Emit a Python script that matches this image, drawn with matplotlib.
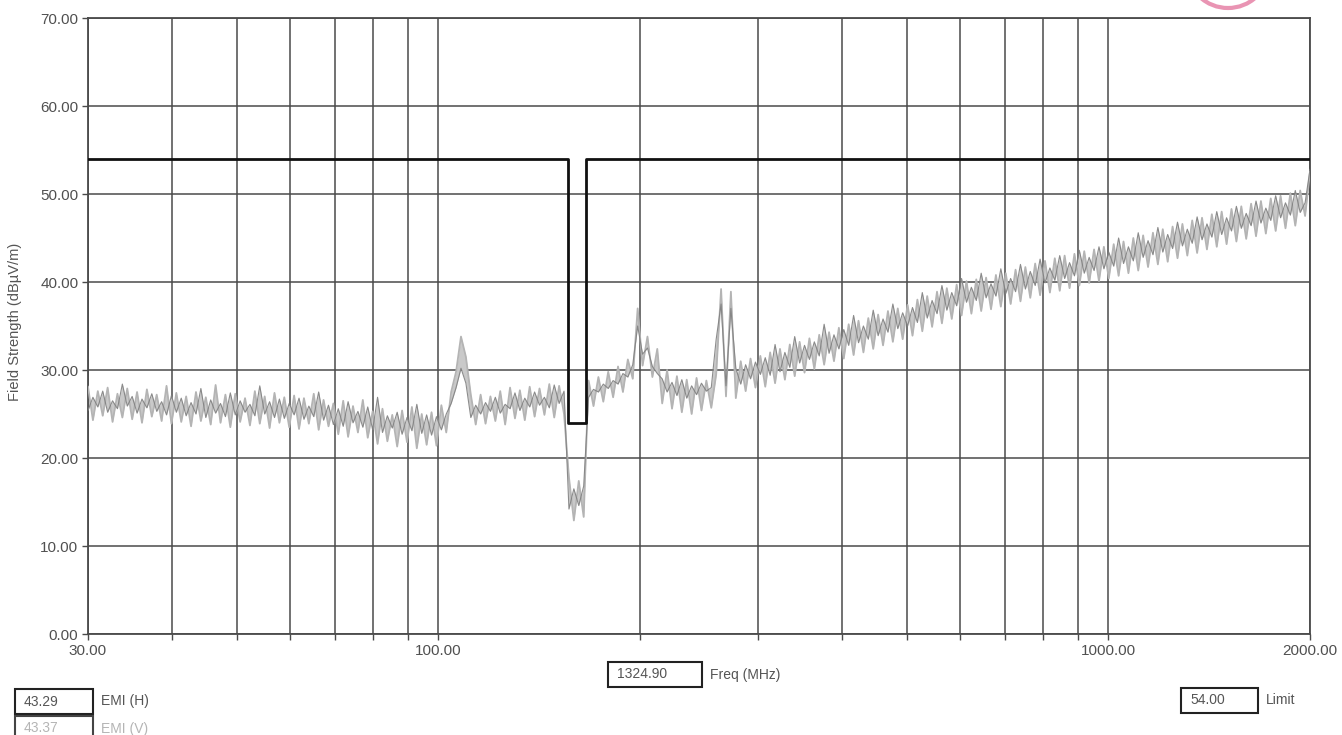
import numpy as np
import matplotlib
matplotlib.use('Agg')
import matplotlib.pyplot as plt
from matplotlib.patches import Rectangle, Ellipse
from matplotlib.ticker import NullLocator

# ---------------- data ----------------
freq_start, freq_stop, n_points = 30.0, 2000.0, 250

emi_v = [
    28.1, 24.3, 27.6, 24.8, 28.0, 24.1, 27.3, 24.6, 27.9, 24.4,
    27.5, 24.0, 27.8, 24.7, 27.2, 24.2, 28.2, 23.9, 27.4, 24.1,
    27.0, 23.6, 27.5, 24.2, 26.9, 23.8, 28.3, 24.0, 27.2, 23.5,
    27.3, 24.1, 26.8, 23.7, 27.6, 23.9, 27.0, 23.4, 27.4, 24.0,
    26.9, 23.5, 27.1, 23.3, 26.8, 23.9, 27.3, 23.2, 26.6, 23.6,
    26.2, 22.7, 26.5, 22.4, 25.9, 22.9, 26.6, 22.3, 25.3, 21.6,
    25.6, 21.9, 24.9, 21.3, 25.4, 21.8, 25.8, 21.1, 25.0, 21.5,
    25.2, 21.4, 26.0, 22.9, 27.5, 29.8, 33.8, 31.5, 27.2, 23.8,
    27.2, 23.9, 27.0, 24.2, 27.6, 23.8, 28.0, 24.5, 27.7, 24.3,
    28.1, 24.7, 27.9, 24.9, 28.4, 24.6, 28.2, 25.0, 17.8, 12.9,
    17.4, 13.3, 28.8, 25.9, 29.2, 26.4, 29.8, 26.9, 30.4, 27.5,
    31.2, 29.0, 37.0, 30.5, 33.8, 29.2, 32.4, 26.2, 30.0, 25.6,
    29.3, 25.2, 28.9, 25.0, 29.1, 25.4, 28.8, 25.7, 29.5, 39.2,
    27.0, 38.9, 26.8, 31.0, 27.6, 31.3, 28.0, 31.6, 28.1, 32.0,
    28.5, 32.4, 28.9, 32.9, 29.3, 33.2, 29.7, 33.6, 30.1, 34.0,
    30.6, 34.3, 31.0, 34.8, 31.3, 35.2, 31.7, 35.6, 32.0, 35.9,
    32.4, 36.3, 32.8, 36.7, 33.2, 37.0, 33.5, 37.4, 33.9, 38.0,
    34.4, 38.4, 34.9, 38.9, 35.3, 39.3, 35.8, 39.7, 36.2, 40.1,
    36.4, 40.3, 36.7, 40.5, 36.9, 40.8, 37.2, 41.0, 37.5, 41.4,
    37.8, 41.7, 38.2, 42.1, 38.5, 42.4, 38.8, 42.7, 39.0, 43.0,
    39.3, 43.2, 39.6, 43.5, 39.9, 43.7, 40.1, 44.0, 40.4, 44.3,
    40.7, 44.6, 41.0, 45.0, 41.3, 45.3, 41.7, 45.6, 42.0, 46.0,
    42.3, 46.3, 42.7, 46.6, 43.0, 47.0, 43.3, 47.3, 43.7, 47.7,
    44.0, 48.0, 44.3, 48.3, 44.6, 48.6, 44.9, 48.9, 45.2, 49.2,
    45.5, 49.5, 45.8, 49.8, 46.1, 50.1, 46.4, 50.4, 47.5, 52.5,
]

emi_h = [
    25.4, 26.9, 25.8, 27.6, 25.2, 26.5, 25.6, 28.4, 25.9, 27.0,
    25.1, 26.7, 25.7, 27.3, 25.3, 26.4, 24.9, 27.1, 25.2, 26.8,
    24.8, 26.3, 25.0, 27.9, 24.6, 26.6, 25.1, 26.2, 24.7, 27.4,
    24.9, 26.5, 25.2, 26.1, 24.8, 28.2, 25.0, 26.4, 24.6, 26.7,
    24.5, 26.2, 24.9, 26.8, 24.4, 25.9, 24.7, 27.5, 24.3, 26.0,
    23.8, 25.6, 23.6, 26.4, 24.0, 25.3, 23.5, 25.8, 23.2, 26.9,
    22.9, 24.8, 23.4, 25.2, 22.7, 24.6, 23.1, 26.1, 22.8, 24.9,
    22.6, 24.7, 23.2, 25.0, 26.2, 28.0, 30.2, 28.5, 24.6, 26.0,
    25.0, 26.3, 25.3, 26.9, 25.1, 26.1, 25.6, 27.4, 25.4, 26.8,
    25.8, 27.5, 26.0, 26.9, 25.7, 28.3, 26.2, 27.6, 14.2, 16.5,
    14.6, 16.8, 26.9, 27.8, 27.5, 28.4, 27.9, 28.8, 28.4, 29.6,
    29.2, 30.6, 35.0, 31.8, 32.5, 30.4, 29.6, 29.0, 27.5, 28.6,
    27.1, 28.9, 26.8, 28.2, 27.2, 28.5, 27.6, 28.0, 33.5, 37.5,
    28.2, 37.0, 30.2, 28.4, 30.6, 29.0, 30.9, 29.5, 31.4, 29.4,
    32.9, 29.8, 32.0, 30.3, 33.8, 30.8, 32.8, 31.2, 33.2, 31.6,
    35.2, 31.9, 34.0, 32.4, 34.6, 32.8, 36.2, 33.1, 35.0, 33.5,
    36.8, 33.9, 35.8, 34.3, 37.5, 34.7, 36.5, 35.0, 37.1, 35.4,
    38.8, 35.9, 37.9, 36.4, 39.6, 36.8, 38.8, 37.3, 40.4, 37.7,
    39.4, 37.9, 41.0, 38.2, 39.8, 38.4, 41.5, 38.7, 40.4, 38.9,
    42.0, 39.2, 41.2, 39.6, 42.6, 39.9, 41.6, 40.2, 43.0, 40.4,
    42.2, 40.7, 43.6, 41.0, 42.8, 41.3, 44.0, 41.5, 43.4, 41.8,
    45.0, 42.1, 44.0, 42.4, 45.6, 42.8, 44.7, 43.1, 46.2, 43.4,
    45.4, 43.8, 46.8, 44.1, 46.0, 44.4, 47.4, 44.8, 46.6, 45.1,
    48.0, 45.4, 47.3, 45.8, 48.6, 46.1, 47.8, 46.4, 49.2, 46.7,
    48.4, 47.0, 49.8, 47.3, 49.0, 47.6, 50.4, 47.9, 49.0, 52.8,
]

limit_freq = [30.0, 156.3, 156.3, 166.0, 166.0, 2000.0]
limit_level = [54.0, 54.0, 24.0, 24.0, 54.0, 54.0]

y_ticks = [0, 10, 20, 30, 40, 50, 60, 70]
x_grid = [30, 40, 50, 60, 70, 80, 90, 100, 200, 300, 400, 500, 600,
          700, 800, 900, 1000, 2000]
x_labeled = [30, 100, 1000, 2000]

readouts = [("43.29", "EMI (H)"), ("43.37", "EMI (V)")]
freq_readout = ("1324.90", "Freq (MHz)")
limit_readout = ("54.00", "Limit")

assert len(emi_v) == n_points and len(emi_h) == n_points
freq = np.geomspace(freq_start, freq_stop, n_points)

# ---------------- figure ----------------
W, H = 1342, 735
plt.rcParams['font.family'] = ['Liberation Sans', 'DejaVu Sans']
fig = plt.figure(figsize=(W / 100, H / 100), dpi=100)
fig.patch.set_facecolor('white')

def fx(px):
    return px / W

def fy(py):
    return 1 - py / H

ax_l, ax_r, ax_t, ax_b = 88, 1310, 18, 634
ax = fig.add_axes([fx(ax_l), fy(ax_b), (ax_r - ax_l) / W, (ax_b - ax_t) / H])
ax.set_xscale('log')
ax.set_xlim(30, 2000)
ax.set_ylim(0, 70)

grid_c = '#4a4a4a'
ax.set_xticks(x_grid)
ax.set_xticklabels([f'{v:.2f}' if v in x_labeled else '' for v in x_grid])
ax.xaxis.set_minor_locator(NullLocator())
ax.set_yticks(y_ticks)
ax.set_yticklabels([f'{v:.2f}' for v in y_ticks])
ax.grid(True, color=grid_c, lw=1.1)
ax.set_axisbelow(True)
for s in ax.spines.values():
    s.set_color(grid_c)
    s.set_linewidth(1.3)
ax.tick_params(axis='both', direction='out', length=4, width=1.0,
               color=grid_c, labelcolor='#505050', labelsize=11)
ax.tick_params(axis='x', pad=3)
ax.tick_params(axis='y', pad=3)

# shading between the two polarisations, then the traces
ax.fill_between(freq, emi_v, emi_h, color='#c9c9c9', lw=0, zorder=2.5)
ax.plot(freq, emi_v, color='#b4b4b4', lw=1.3, zorder=3)
ax.plot(freq, emi_h, color='#808080', lw=0.8, zorder=4, alpha=0.9)
ax.plot(limit_freq, limit_level, color='#111111', lw=2.0, zorder=5)

fig.text(fx(15), fy(322), 'Field Strength (dB\u00b5V/m)', rotation=90,
         ha='center', va='center', fontsize=10.5, color='#555555')

def readout(x0, y0, x1, y1, value, label, tcolor, ecolor='#222222'):
    fig.patches.append(Rectangle((fx(x0), fy(y1)), (x1 - x0) / W, (y1 - y0) / H,
                                 transform=fig.transFigure, fill=False,
                                 edgecolor=ecolor, lw=1.5))
    fig.text(fx(x0 + 9), fy((y0 + y1) / 2), value, ha='left', va='center',
             fontsize=10, color=tcolor)
    fig.text(fx(x1 + 8), fy((y0 + y1) / 2), label, ha='left', va='center',
             fontsize=10, color=tcolor)

readout(15, 689, 93, 714, readouts[0][0], readouts[0][1], '#555555')
readout(15, 716, 93, 741, readouts[1][0], readouts[1][1], '#b5b5b5', '#444444')
readout(608, 662, 702, 687, freq_readout[0], freq_readout[1], '#555555')
readout(1181, 688, 1258, 713, limit_readout[0], limit_readout[1], '#555555')

# pink stamp edge at top
fig.patches.append(Ellipse((fx(1228), fy(-30)), 80 / W, 76 / H,
                           transform=fig.transFigure, fill=False,
                           edgecolor='#e47aa0', lw=3, alpha=0.8))

fig.savefig('out.png', dpi=100, facecolor='white')
